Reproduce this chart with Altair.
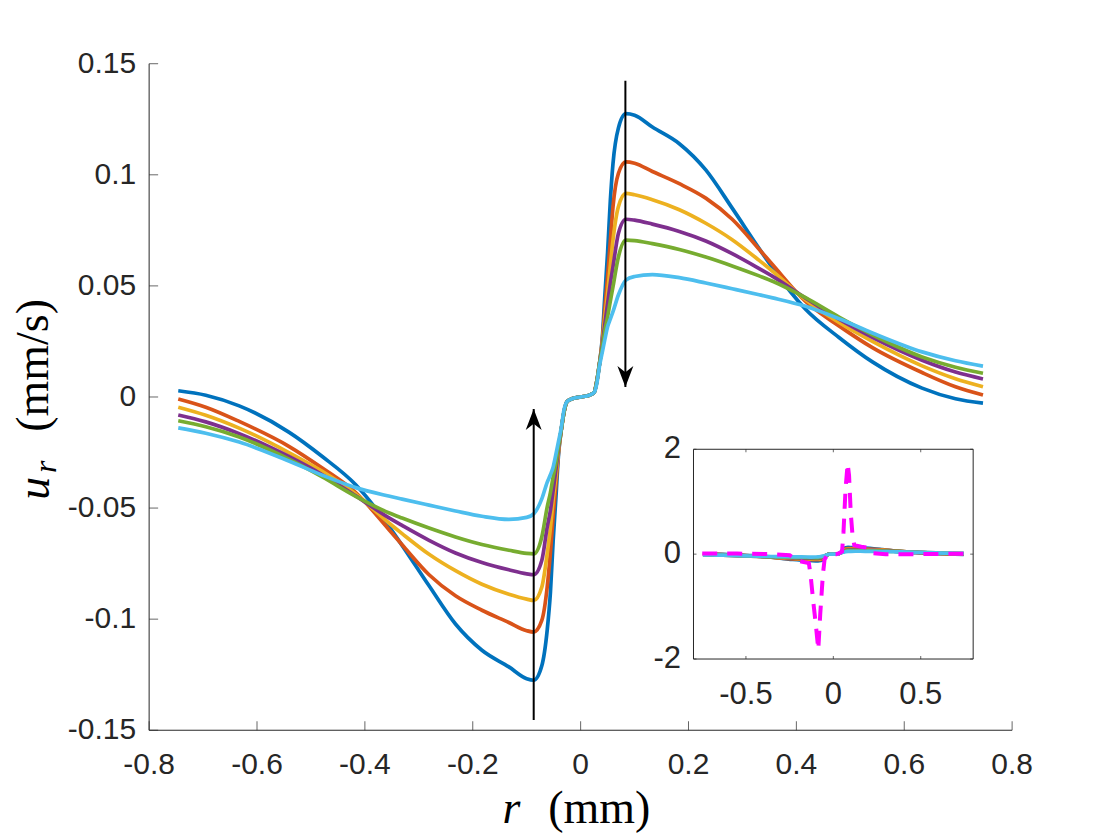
import altair as alt
import pandas as pd

# ---------------- data ----------------
r_mm = [-0.746, -0.695, -0.633, -0.541, -0.479, -0.417, -0.356, -0.331, -0.281, -0.232,
        -0.183, -0.133, -0.100, -0.087, -0.072, -0.062, -0.056, -0.051, -0.046, -0.041,
        -0.036, -0.031, -0.025, -0.016, 0.0, 0.016, 0.025, 0.030, 0.035, 0.040,
        0.045, 0.050, 0.055, 0.060, 0.070, 0.084, 0.100, 0.133, 0.183, 0.232,
        0.281, 0.331, 0.356, 0.417, 0.479, 0.541, 0.633, 0.695, 0.746]

u_blue = [0.0028, 0.0008, -0.0040, -0.0158, -0.0268, -0.0395, -0.0580, -0.0668, -0.0850, -0.1022,
          -0.1140, -0.1215, -0.1268, -0.1275, -0.121, -0.105, -0.088, -0.065, -0.046, -0.026,
          -0.015, -0.007, -0.002, -0.0008, 0.0, 0.0008, 0.002, 0.007, 0.015, 0.026,
          0.046, 0.065, 0.088, 0.105, 0.121, 0.1275, 0.1268, 0.1215, 0.1140, 0.1022,
          0.0850, 0.0668, 0.0580, 0.0395, 0.0268, 0.0158, 0.0040, -0.0008, -0.0028]
u_red = [-0.0009, -0.0046, -0.0110, -0.0222, -0.0320, -0.0430, -0.0595, -0.0665, -0.0800, -0.0895,
         -0.0960, -0.1015, -0.1052, -0.1058, -0.1006, -0.0856, -0.070, -0.054, -0.040, -0.025,
         -0.015, -0.007, -0.002, -0.0008, 0.0, 0.0008, 0.002, 0.007, 0.015, 0.025,
         0.040, 0.054, 0.070, 0.0856, 0.1006, 0.1058, 0.1052, 0.1015, 0.0960, 0.0895,
         0.0800, 0.0665, 0.0595, 0.0430, 0.0320, 0.0222, 0.0110, 0.0046, 0.0009]
u_yellow = [-0.0046, -0.0082, -0.0140, -0.0250, -0.0335, -0.0437, -0.0566, -0.0615, -0.0708, -0.0782,
            -0.0843, -0.0888, -0.0910, -0.0916, -0.0856, -0.0706, -0.059, -0.0466, -0.036, -0.024,
            -0.015, -0.007, -0.002, -0.0008, 0.0, 0.0008, 0.002, 0.007, 0.015, 0.024,
            0.036, 0.0466, 0.059, 0.0706, 0.0856, 0.0916, 0.0910, 0.0888, 0.0843, 0.0782,
            0.0708, 0.0615, 0.0566, 0.0437, 0.0335, 0.0250, 0.0140, 0.0082, 0.0046]
u_purple = [-0.0081, -0.0112, -0.0165, -0.0268, -0.0350, -0.0445, -0.0543, -0.0578, -0.0645, -0.0702,
            -0.0745, -0.0778, -0.0796, -0.0800, -0.0736, -0.0586, -0.051, -0.0421, -0.033, -0.023,
            -0.015, -0.007, -0.002, -0.0008, 0.0, 0.0008, 0.002, 0.007, 0.015, 0.023,
            0.033, 0.0421, 0.051, 0.0586, 0.0736, 0.0800, 0.0796, 0.0778, 0.0745, 0.0702,
            0.0645, 0.0578, 0.0543, 0.0445, 0.0350, 0.0268, 0.0165, 0.0112, 0.0081]
u_green = [-0.0107, -0.0134, -0.0180, -0.0280, -0.0360, -0.0447, -0.0521, -0.0545, -0.0590, -0.0630,
           -0.0664, -0.0690, -0.0704, -0.0706, -0.063, -0.0496, -0.043, -0.0361, -0.030, -0.022,
           -0.015, -0.007, -0.002, -0.0008, 0.0, 0.0008, 0.002, 0.007, 0.015, 0.022,
           0.030, 0.0361, 0.043, 0.0496, 0.063, 0.0706, 0.0704, 0.0690, 0.0664, 0.0630,
           0.0590, 0.0545, 0.0521, 0.0447, 0.0360, 0.0280, 0.0180, 0.0134, 0.0107]
u_cyan = [-0.0139, -0.0163, -0.0203, -0.0288, -0.0352, -0.0408, -0.0446, -0.0460, -0.0487, -0.0513,
          -0.0537, -0.0551, -0.0542, -0.0526, -0.0459, -0.0384, -0.035, -0.0316, -0.026, -0.020,
          -0.014, -0.006, -0.002, -0.0008, 0.0, 0.0008, 0.002, 0.006, 0.014, 0.020,
          0.026, 0.0316, 0.035, 0.0384, 0.0459, 0.0526, 0.0542, 0.0551, 0.0537, 0.0513,
          0.0487, 0.0460, 0.0446, 0.0408, 0.0352, 0.0288, 0.0203, 0.0163, 0.0139]

series_names = ["c1", "c2", "c3", "c4", "c5", "c6"]
series_colors = ["#0072BD", "#D95319", "#EDB120", "#7E2F8E", "#77AC30", "#4DBEEE"]
series_values = [u_blue, u_red, u_yellow, u_purple, u_green, u_cyan]

# inset dashed magenta curve
mag_r = [-0.75, -0.55, -0.35, -0.25, -0.21, -0.17, -0.14, -0.13, -0.115, -0.10,
         -0.086, -0.075, -0.068, -0.06, -0.05, -0.035, -0.015, 0.0, 0.015, 0.035,
         0.05, 0.058, 0.07, 0.082, 0.09, 0.10, 0.11, 0.12, 0.16, 0.20,
         0.22, 0.30, 0.50, 0.75]
mag_u = [0.01, 0.01, 0.0, -0.02, -0.12, -0.15, -0.17, -0.4, -0.9, -1.35,
         -1.82, -1.15, -0.8, -0.4, -0.1, -0.02, 0.0, 0.0, 0.0, 0.02,
         0.05, 0.41, 1.25, 1.73, 1.5, 0.77, 0.35, 0.17, 0.14, 0.12,
         0.02, 0.0, 0.0, 0.01]

# arrows (x position, start, end)
arrow_x = [-0.087, 0.083]
arrow_start = [-0.1454, 0.1423]
arrow_end = [-0.0054, 0.0045]

# axes
x_ticks = [-0.8, -0.6, -0.4, -0.2, 0.0, 0.2, 0.4, 0.6, 0.8]
x_tick_labels = ["-0.8", "-0.6", "-0.4", "-0.2", "0", "0.2", "0.4", "0.6", "0.8"]
y_ticks = [-0.15, -0.1, -0.05, 0.0, 0.05, 0.1, 0.15]
y_tick_labels = ["-0.15", "-0.1", "-0.05", "0", "0.05", "0.1", "0.15"]
x_lim = [-0.8, 0.8]
y_lim = [-0.15, 0.15]
inset_x_ticks = [-0.5, 0.0, 0.5]
inset_x_tick_labels = ["-0.5", "0", "0.5"]
inset_y_ticks = [-2, 0, 2]
inset_y_tick_labels = ["-2", "0", "2"]
inset_x_lim = [-0.8, 0.8]
inset_y_lim = [-2, 2]

# ---------------- tables ----------------
rows = []
for name, vals in zip(series_names, series_values):
    for i, (r, u) in enumerate(zip(r_mm, vals)):
        rows.append({"r": r, "u": u, "series": name, "order": i})
df = pd.DataFrame(rows)
mag_df = pd.DataFrame({"r": mag_r, "u": mag_u, "order": list(range(len(mag_r)))})
arrows_df = pd.DataFrame({"x": arrow_x, "y0": arrow_start, "y1": arrow_end})

W, H = 864, 667.3
INK = "#262626"
TICKFONT = "Liberation Sans"
MATHFONT = "Liberation Serif"
LW = 3.7

xs = alt.Scale(domain=x_lim, nice=False, zero=False)
ys = alt.Scale(domain=y_lim, nice=False, zero=False)
cscale = alt.Scale(domain=series_names, range=series_colors)

# ---------------- main panel ----------------
main_lines = alt.Chart(df).mark_line(strokeWidth=LW, interpolate="monotone").encode(
    x=alt.X("r:Q", scale=xs, axis=None),
    y=alt.Y("u:Q", scale=ys, axis=None),
    color=alt.Color("series:N", scale=cscale, legend=None),
    order="order:Q",
)

frame_df = pd.DataFrame({"x0": [x_lim[0]], "x1": [x_lim[1]], "y0": [y_lim[0]], "y1": [y_lim[1]]})
main_xdomain = alt.Chart(frame_df).mark_rule(color=INK, strokeWidth=1).encode(
    x=alt.X("x0:Q", scale=xs, axis=None), x2="x1:Q", y=alt.Y("y0:Q", scale=ys, axis=None))
main_ydomain = alt.Chart(frame_df).mark_rule(color=INK, strokeWidth=1).encode(
    x=alt.X("x0:Q", scale=xs, axis=None), y=alt.Y("y0:Q", scale=ys, axis=None), y2="y1:Q")

xt_df = pd.DataFrame({"t": x_ticks, "lab": x_tick_labels, "b": [y_lim[0]] * len(x_ticks)})
yt_df = pd.DataFrame({"t": y_ticks, "lab": y_tick_labels, "b": [x_lim[0]] * len(y_ticks)})
main_xticks = alt.Chart(xt_df).mark_tick(orient="vertical", size=9, thickness=1, color=INK, yOffset=-4.5).encode(
    x=alt.X("t:Q", scale=xs, axis=None), y=alt.Y("b:Q", scale=ys, axis=None))
main_yticks = alt.Chart(yt_df).mark_tick(orient="horizontal", size=9, thickness=1, color=INK, xOffset=4.5).encode(
    y=alt.Y("t:Q", scale=ys, axis=None), x=alt.X("b:Q", scale=xs, axis=None))
main_xlabels = alt.Chart(xt_df).mark_text(font=TICKFONT, fontSize=30, color=INK, align="center",
                                          baseline="top", dy=20).encode(
    x=alt.X("t:Q", scale=xs, axis=None), y=alt.Y("b:Q", scale=ys, axis=None), text="lab:N")
main_ylabels = alt.Chart(yt_df).mark_text(font=TICKFONT, fontSize=30, color=INK, align="right",
                                          baseline="middle", dx=-13).encode(
    y=alt.Y("t:Q", scale=ys, axis=None), x=alt.X("b:Q", scale=xs, axis=None), text="lab:N")

arrow_shaft = alt.Chart(arrows_df).mark_rule(color="black", strokeWidth=2).encode(
    x=alt.X("x:Q", scale=xs, axis=None),
    y=alt.Y("y0:Q", scale=ys, axis=None),
    y2="y1:Q",
)
head_up = alt.Chart(arrows_df[arrows_df["y1"] > arrows_df["y0"]]).mark_point(
    shape="M0,0 L-0.76,2 L0,1.4 L0.76,2 Z", filled=True, size=441, color="black", opacity=1, strokeWidth=0
).encode(x=alt.X("x:Q", scale=xs, axis=None), y=alt.Y("y1:Q", scale=ys, axis=None))
head_down = alt.Chart(arrows_df[arrows_df["y1"] < arrows_df["y0"]]).mark_point(
    shape="M0,0 L-0.76,-2 L0,-1.4 L0.76,-2 Z", filled=True, size=441, color="black", opacity=1, strokeWidth=0
).encode(x=alt.X("x:Q", scale=xs, axis=None), y=alt.Y("y1:Q", scale=ys, axis=None))

one = pd.DataFrame({"k": [0]})
x_title_r = alt.Chart(one).mark_text(text="r", font=MATHFONT, fontSize=46, fontStyle="italic",
                                     align="center", baseline="alphabetic", color="black").encode(
    x=alt.value(362.7), y=alt.value(759.7))
x_title_mm = alt.Chart(one).mark_text(text="(mm)", font=MATHFONT, fontSize=46,
                                      align="center", baseline="alphabetic", color="black").encode(
    x=alt.value(450.7), y=alt.value(759.7))
y_title_u = alt.Chart(one).mark_text(text="u", font=MATHFONT, fontSize=46, fontStyle="italic", angle=270,
                                     align="center", baseline="alphabetic", color="black").encode(
    x=alt.value(-100.0), y=alt.value(425.0))
y_title_sub = alt.Chart(one).mark_text(text="r", font=MATHFONT, fontSize=32, fontStyle="italic", angle=270,
                                       align="center", baseline="alphabetic", color="black").encode(
    x=alt.value(-93.0), y=alt.value(403.5))
y_title_unit = alt.Chart(one).mark_text(text="(mm/s)", font=MATHFONT, fontSize=46, angle=270,
                                        align="center", baseline="alphabetic", color="black").encode(
    x=alt.value(-101.0), y=alt.value(302.0))

main = alt.layer(main_lines, main_xdomain, main_ydomain, main_xticks, main_yticks,
                 main_xlabels, main_ylabels, arrow_shaft, head_up, head_down,
                 x_title_r, x_title_mm, y_title_u, y_title_sub, y_title_unit)

# ---------------- inset panel ----------------
ixs = alt.Scale(domain=inset_x_lim, range=[545.0, 825.0], nice=False, zero=False)
iys = alt.Scale(domain=inset_y_lim, range=[596.0, 386.0], nice=False, zero=False)

box_df = pd.DataFrame({"x0": [inset_x_lim[0]], "x1": [inset_x_lim[1]],
                       "y0": [inset_y_lim[0]], "y1": [inset_y_lim[1]]})
inset_box = alt.Chart(box_df).mark_rect(fill="white", stroke=INK, strokeWidth=1).encode(
    x=alt.X("x0:Q", scale=ixs, axis=None), x2="x1:Q",
    y=alt.Y("y0:Q", scale=iys, axis=None), y2="y1:Q",
)

inset_lines = alt.Chart(df).mark_line(strokeWidth=LW, interpolate="monotone").encode(
    x=alt.X("r:Q", scale=ixs, axis=None),
    y=alt.Y("u:Q", scale=iys, axis=None),
    color=alt.Color("series:N", scale=cscale, legend=None),
    order="order:Q",
)
inset_mag = alt.Chart(mag_df).mark_line(strokeWidth=4, color="#FF00FF", strokeDash=[15, 10]).encode(
    x=alt.X("r:Q", scale=ixs, axis=None),
    y=alt.Y("u:Q", scale=iys, axis=None),
    order="order:Q",
)

ixb = pd.DataFrame({"t": inset_x_ticks, "lab": inset_x_tick_labels,
                    "b": [inset_y_lim[0]] * 3, "top": [inset_y_lim[1]] * 3})
iyb = pd.DataFrame({"t": inset_y_ticks, "lab": inset_y_tick_labels,
                    "l": [inset_x_lim[0]] * 3, "rr": [inset_x_lim[1]] * 3})
it_bottom = alt.Chart(ixb).mark_tick(orient="vertical", size=3, thickness=1, color=INK, yOffset=-1.5).encode(
    x=alt.X("t:Q", scale=ixs, axis=None), y=alt.Y("b:Q", scale=iys, axis=None))
it_top = alt.Chart(ixb).mark_tick(orient="vertical", size=3, thickness=1, color=INK, yOffset=1.5).encode(
    x=alt.X("t:Q", scale=ixs, axis=None), y=alt.Y("top:Q", scale=iys, axis=None))
it_left = alt.Chart(iyb).mark_tick(orient="horizontal", size=3, thickness=1, color=INK, xOffset=1.5).encode(
    y=alt.Y("t:Q", scale=iys, axis=None), x=alt.X("l:Q", scale=ixs, axis=None))
it_right = alt.Chart(iyb).mark_tick(orient="horizontal", size=3, thickness=1, color=INK, xOffset=-1.5).encode(
    y=alt.Y("t:Q", scale=iys, axis=None), x=alt.X("rr:Q", scale=ixs, axis=None))
inset_xlabels = alt.Chart(ixb).mark_text(font=TICKFONT, fontSize=31, color=INK, align="center",
                                         baseline="top", dy=21.5).encode(
    x=alt.X("t:Q", scale=ixs, axis=None), y=alt.Y("b:Q", scale=iys, axis=None), text="lab:N")
inset_ylabels = alt.Chart(iyb).mark_text(font=TICKFONT, fontSize=31, color=INK, align="right",
                                         baseline="middle", dx=-12.5).encode(
    y=alt.Y("t:Q", scale=iys, axis=None), x=alt.X("l:Q", scale=ixs, axis=None), text="lab:N")

inset = alt.layer(inset_box, inset_lines, inset_mag, it_bottom, it_top, it_left, it_right,
                  inset_xlabels, inset_ylabels)

chart = alt.layer(main, inset).resolve_scale(x="independent", y="independent").properties(
    width=W, height=H,
    autosize=alt.AutoSizeParams(type="none"),
    padding={"left": 141.3, "top": 55.3, "right": 100, "bottom": 108},
).configure(background="white").configure_view(stroke=None)

chart.save("out.html", embed_options={"renderer": "svg", "actions": False})
